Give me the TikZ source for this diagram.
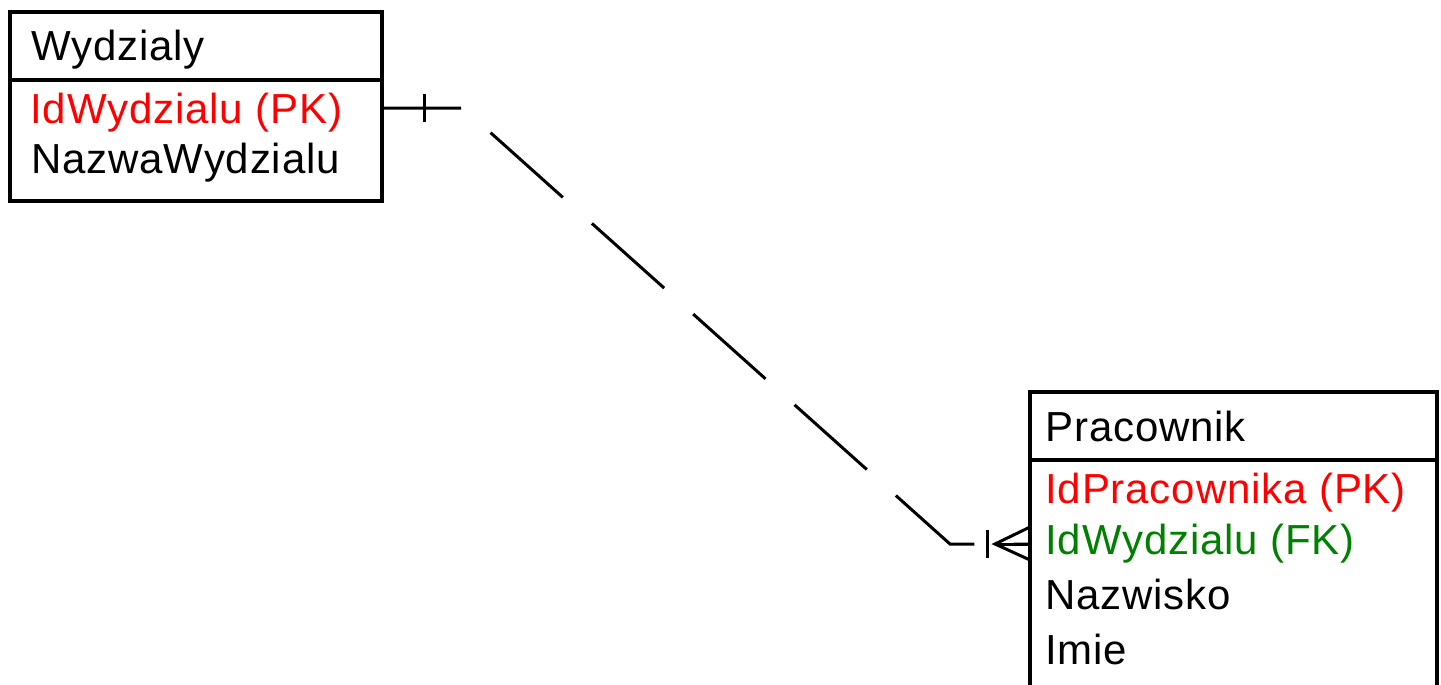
\documentclass[tikz,border=0pt]{standalone}
\usepackage{fontspec}
\setmainfont[LetterSpace=2]{Liberation Sans}
\definecolor{pkred}{RGB}{255,0,0}
\definecolor{fkgreen}{RGB}{0,128,0}
\tikzset{
  tablebox/.style={draw, line width=2pt, inner sep=0pt, outer sep=0pt},
  rowline/.style={line width=2pt},
  field/.style={anchor=base west, inner sep=0pt, font=\fontsize{21}{25}\selectfont},
  relline/.style={line width=1.5pt},
}
\begin{document}
\begin{tikzpicture}[x=0.5pt,y=-0.5pt]
\useasboundingbox (0,0) rectangle (1441,685);
% Draw the tables
\node[tablebox, minimum width=186pt, minimum height=94.5pt] (wydzialy) at (196,106.5) {};
\node[tablebox, minimum width=203.5pt, minimum height=164pt] (pracownik) at (1233.5,556) {};
\draw[rowline] ([yshift=-34pt]wydzialy.north west) -- ([yshift=-34pt]wydzialy.north east);
\draw[rowline] ([yshift=-34pt]pracownik.north west) -- ([yshift=-34pt]pracownik.north east);
% Draw the fields
\node[field] (w1) at (31,60) {Wydzialy};
\node[field, text=pkred] (w2) at (30,123) {IdWydzialu (PK)};
\node[field] (w3) at (31,173) {NazwaWydzialu};
\foreach \name/\col/\y [count=\i] in {Pracownik/black/441,IdPracownika (PK)/pkred/503,IdWydzialu (FK)/fkgreen/554,Nazwisko/black/609,Imie/black/664}
{
\node[field, text=\col] (p\i) at (1045,\y) {\name};
}
% Draw the relation
\coordinate (bendA) at (463,108);
\coordinate (bendB) at (950,544);
\draw[relline, dash pattern=on 48.5pt off 19.5pt, dash phase=9pt] (wydzialy.east |- bendA) -- (bendA) -- (bendB) -- (pracownik.west |- bendB);
\coordinate (oneA) at (424,108);
\draw[relline] ([yshift=7pt]oneA) -- ([yshift=-7pt]oneA);
\coordinate (oneB) at (987,544);
\draw[relline] ([yshift=7pt]oneB) -- ([yshift=-7pt]oneB);
\coordinate (footB) at (995,544);
\coordinate (footEnd) at (pracownik.west |- footB);
\draw[relline] ([yshift=8.5pt]footEnd) -- (footB) -- ([yshift=-8pt]footEnd);
\draw[relline] (footB) -- (footEnd);
\end{tikzpicture}
\end{document}
